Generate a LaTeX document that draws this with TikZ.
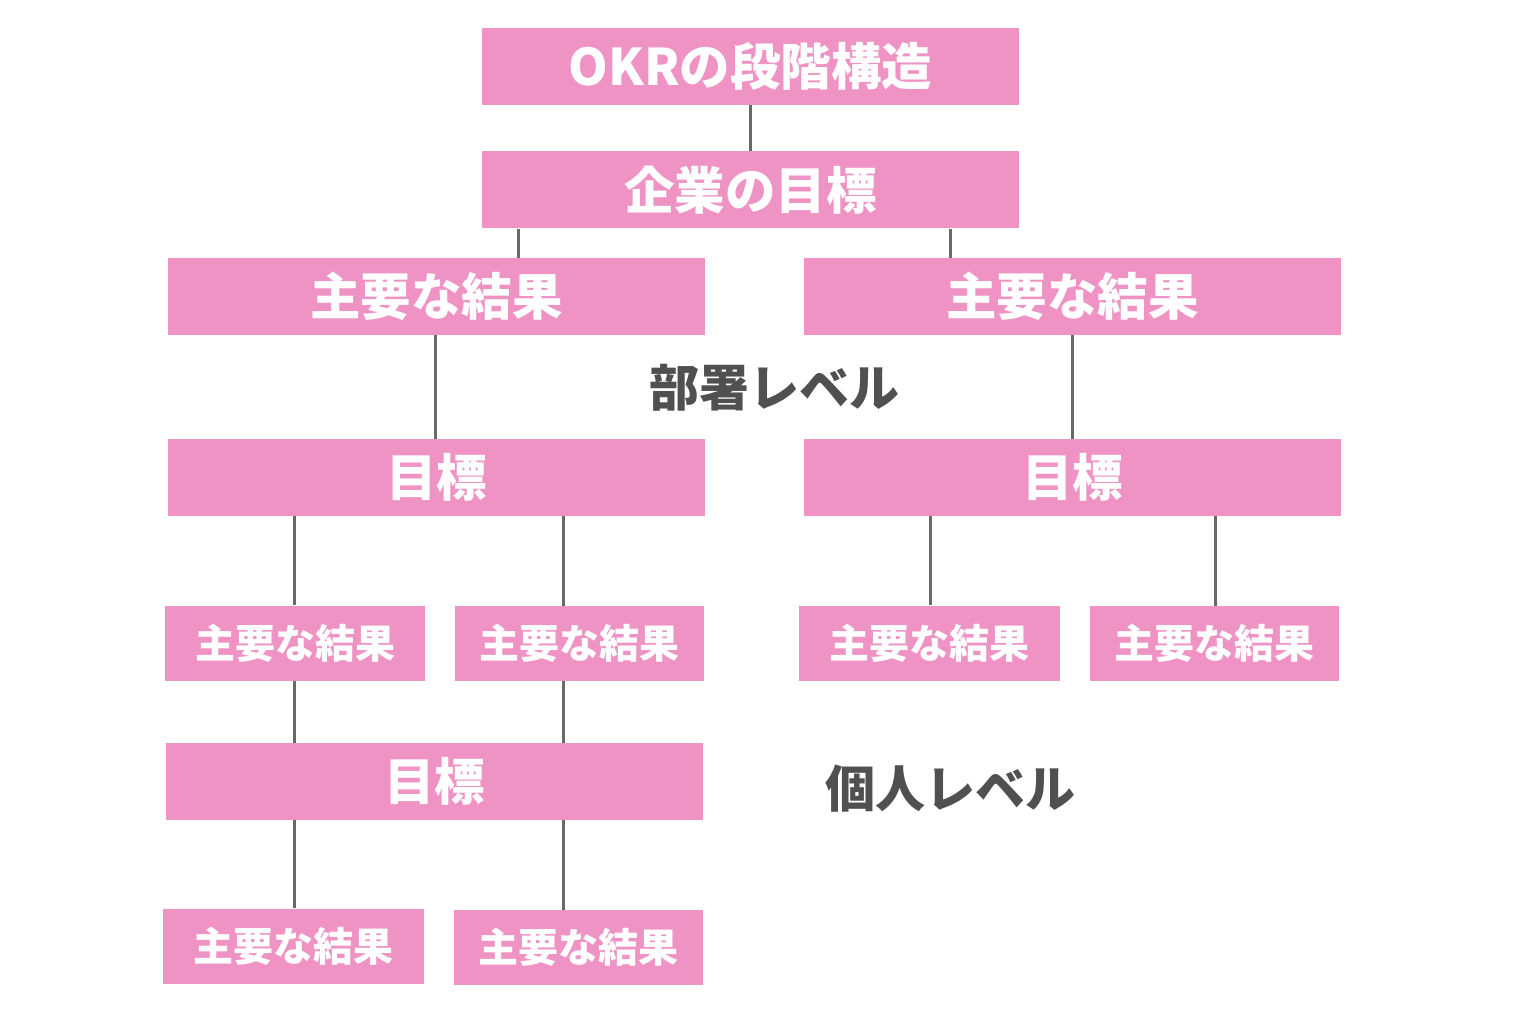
\documentclass[tikz,border=0pt]{standalone}
\usepackage{fontspec}
\setmainfont{Noto Sans CJK JP}
\usetikzlibrary{positioning,calc}

\definecolor{okrpink}{RGB}{239,147,196}
\definecolor{linkgray}{RGB}{105,105,105}
\definecolor{levelgray}{RGB}{80,80,80}

\begin{document}
\begin{tikzpicture}[
  x=1pt,y=-1pt,
  wide/.style  ={fill=okrpink,minimum width=537pt,minimum height=77pt,inner sep=0pt,
                 text=white,font=\fontsize{50.5}{52}\selectfont\bfseries},
  small/.style ={fill=okrpink,minimum height=75pt,inner sep=0pt,
                 text=white,font=\fontsize{40}{42}\selectfont\bfseries},
  link/.style  ={draw=linkgray,line width=3pt},
  level/.style ={text=levelgray,inner sep=0pt,font=\fontsize{50}{52}\selectfont\bfseries},
]
\useasboundingbox (0,0) rectangle (1530,1016);

%% ============================================================
%%  Company level
%% ============================================================
\node[wide] (title)   at (750.5,66.5) {OKRの段階構造};
\node[wide] (company) at (750.5,190)  {企業の目標};

%% ============================================================
%%  Department level
%% ============================================================
\node[wide] (krL)   at (436.5,296.5)  {主要な結果};
\node[wide] (krR)   at (1072.5,296.5) {主要な結果};
\node[level] (dept) at (774,388)      {部署レベル};
\node[wide] (goalL) at (436.5,477.5)  {目標};
\node[wide] (goalR) at (1072.5,477.5) {目標};

%% ============================================================
%%  Individual level
%% ============================================================
\node[small,minimum width=260pt] (krLa) at (295,643)    {主要な結果};
\node[small,minimum width=249pt] (krLb) at (579.5,643.5) {主要な結果};
\node[small,minimum width=261pt] (krRa) at (929.5,643)  {主要な結果};
\node[small,minimum width=249pt] (krRb) at (1214.5,643.5) {主要な結果};

\node[wide] (goal2) at (434.5,781.5) {目標};
\node[level] (indiv) at (950,789)   {個人レベル};

\node[small,minimum width=261pt] (krSa) at (293.5,946)  {主要な結果};
\node[small,minimum width=249pt] (krSb) at (578.5,947.5) {主要な結果};

%% ============================================================
%%  Links
%% ============================================================
\foreach \a/\b/\x in {title/company/750, company/krL/518, company/krR/950,
                      krL/goalL/435, krR/goalR/1072,
                      goalL/krLa/294, goalL/krLb/563, goalR/krRa/930, goalR/krRb/1215,
                      krLa/goal2/294, krLb/goal2/563,
                      goal2/krSa/294, goal2/krSb/563}
  \draw[link] (\a.south -| \x,0) -- (\b.north -| \x,0);

\end{tikzpicture}
\end{document}
